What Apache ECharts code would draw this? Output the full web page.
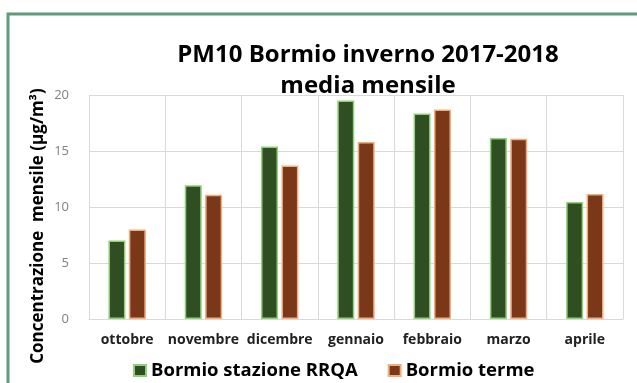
<!DOCTYPE html>
<html><head><meta charset="utf-8">
<script src="https://cdn.jsdelivr.net/npm/echarts@6/dist/echarts.min.js"></script>
<style>html,body{margin:0;padding:0;background:#fff}#c{width:637px;height:383px}</style>
</head><body><div id="c"></div>
<script>
const categories = ['ottobre','novembre','dicembre','gennaio','febbraio','marzo','aprile'];
const stazioneRRQA = [7.0, 11.95, 15.4, 19.5, 18.35, 16.15, 10.45];
const bormioTerme = [8.0, 11.1, 13.7, 15.8, 18.7, 16.1, 11.15];
const yTicks = [0, 5, 10, 15, 20];
const seriesNames = ['Bormio stazione RRQA', 'Bormio terme'];
const yTitle = 'Concentrazione  mensile (µg/m³)';

const chart = echarts.init(document.getElementById('c'), null, {renderer:'canvas'});
const font = '"Open Sans", "Noto Sans", sans-serif';
chart.setOption({
  animation: false,
  graphic: [{
    type: 'rect', shape: {x: 8, y: 14, width: 640, height: 380},
    style: {fill: 'none', stroke: '#5f9a7a', lineWidth: 3}, silent: true
  }, {
    type: 'text', x: 38, y: 226, rotation: Math.PI / 2,
    style: {text: yTitle, fontFamily: font, fontWeight: 'bold', fontSize: 17, fill: '#000',
            align: 'center', verticalAlign: 'middle'}
  }],
  title: {
    text: 'PM10 Bormio inverno 2017-2018\nmedia mensile',
    left: 363, top: 35, textAlign: 'center',
    textStyle: {fontFamily: font, fontWeight: 'bold', fontSize: 24, color: '#000', lineHeight: 31}
  },
  legend: {
    data: seriesNames, left: 128, top: 356, itemWidth: 12, itemHeight: 11, itemGap: 30,
    icon: 'rect',
    textStyle: {fontFamily: font, fontWeight: 'bold', fontSize: 18.5, color: '#000'}
  },
  grid: {left: 89, right: 14, top: 95, bottom: 64},
  xAxis: {
    type: 'category', data: categories,
    axisLine: {show: true, lineStyle: {color: '#d9d9d9'}},
    axisTick: {show: false},
    splitLine: {show: true, lineStyle: {color: '#d9d9d9'}},
    axisLabel: {fontFamily: font, fontWeight: 'bold', fontSize: 14, color: '#222', margin: 14, interval: 0}
  },
  yAxis: {
    type: 'value', min: yTicks[0], max: yTicks[yTicks.length-1], interval: 5,
    axisLine: {show: false}, axisTick: {show: false},
    splitLine: {lineStyle: {color: '#d9d9d9'}},
    axisLabel: {fontFamily: font, fontSize: 13, color: '#7f7f7f', margin: 20}
  },
  series: [
    {name: seriesNames[0], type: 'bar', data: stazioneRRQA, barWidth: 17, barGap: '20%',
     itemStyle: {color: '#2f4f23', borderColor: '#8fcf78', borderWidth: 1.5}},
    {name: seriesNames[1], type: 'bar', data: bormioTerme, barWidth: 17,
     itemStyle: {color: '#7a3818', borderColor: '#f2ad7e', borderWidth: 1.5}}
  ]
});
</script></body></html>
